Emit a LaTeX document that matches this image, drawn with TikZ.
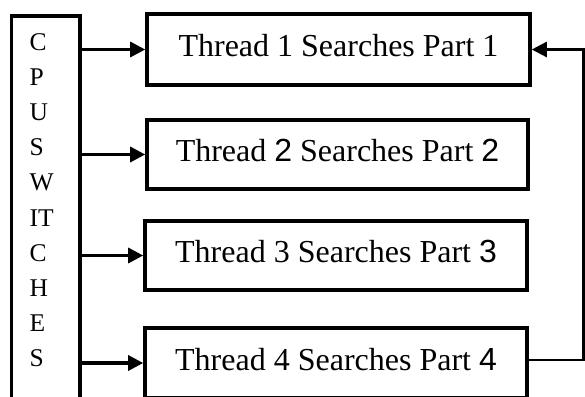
\documentclass[tikz,border=0pt]{standalone}
\usepackage{fontspec}
\setmainfont{Liberation Serif}
\newfontfamily\sansdigit{Liberation Sans}
\usetikzlibrary{arrows.meta}
\begin{document}
\begin{tikzpicture}[x=1pt,y=-1pt,
  thread/.style={draw, line width=3.6pt, minimum width=382pt, minimum height=70pt,
    inner sep=0pt, font=\fontsize{32}{38}\selectfont, text height=22pt, text depth=8pt},
  letter/.style={anchor=base west, inner sep=0pt, font=\fontsize{25.5}{30}\selectfont},
  tip/.style={-{Triangle[length=15pt,width=15pt]}},
  arr/.style={line width=3.2pt, tip},
  fb/.style={line width=2.6pt}]
\useasboundingbox (0,0) rectangle (585,396);
\clip (0,0) rectangle (585,396);
\node[draw, line width=3.6pt, minimum width=68.5pt, minimum height=400pt,
      anchor=north west, inner sep=0pt] (cpu) at (9.5,14) {};
\foreach \t [count=\i from 0] in {C,P,U,S,W,IT,C,H,E,S}
  \node[letter] (l\i) at (29.5, 50+35.2*\i) {\t};
\node[thread, minimum width=383pt, minimum height=71pt] (b1) at (338.5,49.5) {Thread 1 Searches Part 1};
\node[thread, minimum width=381pt, minimum height=69pt] (b2) at (337.5,154.5) {Thread {\sansdigit 2} Searches Part {\sansdigit 2}};
\node[thread, minimum height=69pt] (b3) at (336,255.5) {Thread 3 Searches Part {\sansdigit 3}};
\node[thread] (b4) at (336,363) {Thread 4 Searches Part {\sansdigit 4}};
\foreach \b in {b1,b2,b3,b4}
  \draw[arr] (cpu.east |- \b.west) -- (\b.west);
\coordinate (fbx) at (583.5,0);
\draw[fb, tip] ([yshift=3pt]b4.east) -- ([yshift=3pt]b4.east -| fbx) -- (b1.east -| fbx) -- (b1.east);
\end{tikzpicture}
\end{document}
